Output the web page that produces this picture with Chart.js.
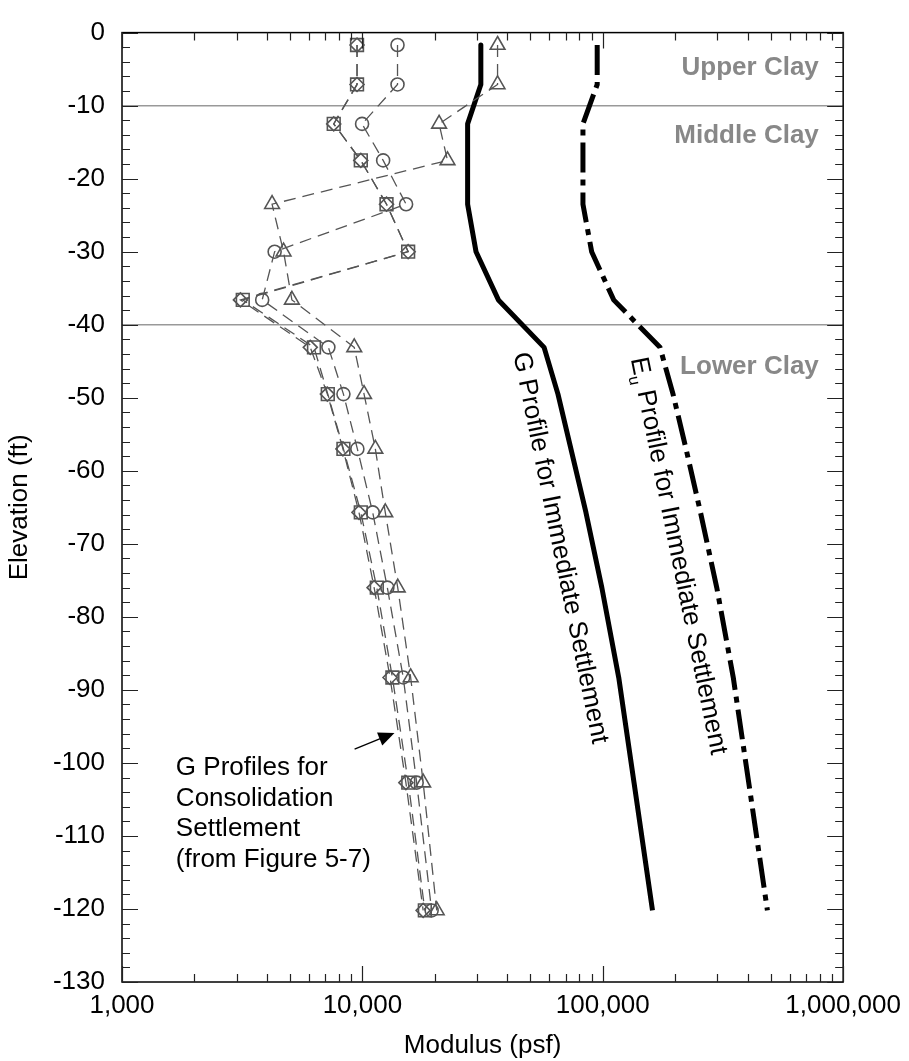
<!DOCTYPE html>
<html>
<head>
<meta charset="utf-8">
<script src="https://cdn.jsdelivr.net/npm/chart.js@4.4.1/dist/chart.umd.min.js"></script>
<style>
  html, body { margin: 0; padding: 0; background: #fff; }
  #wrap { width: 909px; height: 1061px; }
</style>
</head>
<body>
<div id="wrap"><canvas id="graph" width="909" height="1061"></canvas></div>
<script>
const ctx = document.getElementById('graph').getContext('2d');

// Elevations (ft) of the sample points, top to bottom
const elevations = [-1.7, -7.1, -12.5, -17.5, -23.5, -30.0, -36.6, -43.1, -49.5, -57.0, -65.7, -76.0, -88.3, -102.7, -120.2];

// G profiles for consolidation settlement (psf), from Figure 5-7
const gSquare   = [9500, 9500, 7600, 9850, 12600, 15500, 3180, 6290, 7180, 8340, 9850, 11480, 13330, 15520, 18190];
const gDiamond  = [9500, 9500, 7600, 9850, 12600, 15500, 3110, 6070, 7150, 8300, 9680, 11190, 13030, 15170, 17900];
const gCircle   = [14000, 14000, 9970, 12200, 15200, 4315, 3830, 7220, 8340, 9530, 11040, 12700, 14790, 16820, 19410];
const gTriangle = [36500, 36500, 20850, 22600, 4210, 4700, 5090, 9250, 10160, 11320, 12450, 14030, 15880, 17900, 20380];

// Profiles for immediate settlement (psf)
const gImmediate  = [31100, 31100, 27400, 27400, 27400, 29700, 36800, 57000, 65100, 73700, 85100, 99100, 116500, 134900, 161000];
const euImmediate = [94800, 94800, 82700, 82700, 82700, 89900, 111000, 173000, 196000, 222000, 255000, 298000, 349000, 404700, 484000];

// Layer boundaries and names
const layerBreaks = [-10, -40];
const layerNames = ['Upper Clay', 'Middle Clay', 'Lower Clay'];

// Axis ticks
const xTickValues = [1000, 10000, 100000, 1000000];
const xTickLabels = ['1,000', '10,000', '100,000', '1,000,000'];

const FONT = '"Liberation Sans", Arial, Helvetica, sans-serif';
const markerGray = '#555';

const toPoints = vals => vals.map((v, i) => ({ x: v, y: elevations[i] }));

function markerSeries(label, vals, style, radius) {
    return {
        label: label,
        data: toPoints(vals),
        showLine: true,
        borderColor: markerGray,
        borderWidth: 1.3,
        borderDash: [12, 7],
        pointStyle: style,
        pointRadius: radius,
        pointBorderColor: markerGray,
        pointBackgroundColor: 'rgba(0,0,0,0)',
        pointBorderWidth: 1.6,
    };
}

const layerLines = layerBreaks.map(e => ({
    label: 'break ' + e,
    data: [{ x: xTickValues[0], y: e }, { x: xTickValues[xTickValues.length - 1], y: e }],
    showLine: true,
    borderColor: '#999',
    borderWidth: 1.5,
    pointRadius: 0,
}));

// text, arrow, frame and inward ticks
const decorations = {
    id: 'decorations',
    afterDatasetsDraw(chart) {
        const { ctx, chartArea: a, scales: { x, y } } = chart;
        ctx.save();

        // frame
        ctx.strokeStyle = '#000';
        ctx.lineWidth = 1.5;
        ctx.strokeRect(a.left, a.top, a.right - a.left, a.bottom - a.top);

        // ticks, pointing inward on all four sides
        ctx.lineWidth = 1.2;
        ctx.strokeStyle = '#222';
        ctx.beginPath();
        for (let d = 1000; d < 1000000; d *= 10) {
            for (let k = 1; k <= 10; k++) {
                const px = Math.round(x.getPixelForValue(d * k)) + 0.5;
                const len = (k === 1 || k === 10) ? 16 : 8;
                ctx.moveTo(px, a.bottom); ctx.lineTo(px, a.bottom - len);
                ctx.moveTo(px, a.top); ctx.lineTo(px, a.top + len);
            }
        }
        for (let e = -130; e <= 0; e += 2) {
            const py = Math.round(y.getPixelForValue(e)) + 0.5;
            const len = e % 10 === 0 ? 16 : 8;
            ctx.moveTo(a.left, py); ctx.lineTo(a.left + len, py);
            ctx.moveTo(a.right, py); ctx.lineTo(a.right - len, py);
        }
        ctx.stroke();

        // layer names
        ctx.fillStyle = '#888';
        ctx.font = 'bold 26px ' + FONT;
        ctx.textAlign = 'right';
        ctx.textBaseline = 'alphabetic';
        const layerElev = [-5.8, -15.1, -46.8];
        const lx = x.getPixelForValue(792000);
        layerNames.forEach((n, i) => ctx.fillText(n, lx, y.getPixelForValue(layerElev[i])));

        // rotated profile labels
        ctx.fillStyle = '#000';
        ctx.textAlign = 'left';
        const ang = 78.5 * Math.PI / 180;

        ctx.save();
        ctx.translate(x.getPixelForValue(42400), y.getPixelForValue(-44.0));
        ctx.rotate(ang);
        ctx.font = '26px ' + FONT;
        ctx.fillText('G Profile for Immediate Settlement', 0, 0);
        ctx.restore();

        ctx.save();
        ctx.translate(x.getPixelForValue(130800), y.getPixelForValue(-44.7));
        ctx.rotate(ang);
        ctx.font = '26px ' + FONT;
        ctx.fillText('E', 0, 0);
        let off = ctx.measureText('E').width;
        ctx.font = '16px ' + FONT;
        ctx.fillText('u', off, 6);
        off += ctx.measureText('u').width;
        ctx.font = '26px ' + FONT;
        ctx.fillText(' Profile for Immediate Settlement', off, 0);
        ctx.restore();

        // note for the consolidation profiles
        ctx.font = '26px ' + FONT;
        const noteLines = ['G Profiles for', 'Consolidation', 'Settlement', '(from Figure 5-7)'];
        const nx = x.getPixelForValue(1675);
        const ny = y.getPixelForValue(-101.7);
        noteLines.forEach((t, i) => ctx.fillText(t, nx, ny + i * 30.5));

        // arrow
        const x0 = x.getPixelForValue(9280), y0 = y.getPixelForValue(-98.1);
        const x1 = x.getPixelForValue(13600), y1 = y.getPixelForValue(-95.9);
        const th = Math.atan2(y1 - y0, x1 - x0);
        ctx.strokeStyle = '#000';
        ctx.lineWidth = 1.3;
        ctx.beginPath();
        ctx.moveTo(x0, y0);
        ctx.lineTo(x1 - 14 * Math.cos(th), y1 - 14 * Math.sin(th));
        ctx.stroke();
        ctx.beginPath();
        ctx.moveTo(x1, y1);
        ctx.lineTo(x1 - 16 * Math.cos(th) + 7 * Math.sin(th), y1 - 16 * Math.sin(th) - 7 * Math.cos(th));
        ctx.lineTo(x1 - 16 * Math.cos(th) - 7 * Math.sin(th), y1 - 16 * Math.sin(th) + 7 * Math.cos(th));
        ctx.closePath();
        ctx.fillStyle = '#000';
        ctx.fill();

        ctx.restore();
    }
};

const chart = new Chart(ctx, {
    type: 'scatter',
    data: {
        datasets: [
            markerSeries('Square', gSquare, 'rect', 9),
            markerSeries('Diamond', gDiamond, 'rectRot', 7),
            markerSeries('Circle', gCircle, 'circle', 6.5),
            markerSeries('Triangle', gTriangle, 'triangle', 8.5),
            {
                label: 'G Profile for Immediate Settlement',
                data: toPoints(gImmediate),
                showLine: true,
                borderColor: '#000',
                borderWidth: 5,
                pointRadius: 0,
                borderJoinStyle: 'round',
            },
            {
                label: 'Eu Profile for Immediate Settlement',
                data: toPoints(euImmediate),
                showLine: true,
                borderColor: '#000',
                borderWidth: 5,
                borderDash: [30, 7, 6, 7],
                pointRadius: 0,
            },
            ...layerLines,
        ],
    },
    options: {
        responsive: false,
        animation: false,
        devicePixelRatio: 1,
        layout: { padding: { top: 16, right: 64, left: 0, bottom: 0 } },
        plugins: {
            legend: { display: false },
            tooltip: { enabled: false },
        },
        scales: {
            x: {
                type: 'logarithmic',
                min: 1000,
                max: 1000000,
                grid: { display: false, drawTicks: false },
                border: { display: false },
                afterFit: s => { s.height = 79; },
                afterBuildTicks: s => { s.ticks = xTickValues.map(v => ({ value: v })); },
                ticks: {
                    autoSkip: false,
                    maxRotation: 0,
                    padding: 8,
                    color: '#000',
                    font: { family: FONT, size: 26 },
                    callback: v => xTickLabels[xTickValues.indexOf(v)],
                },
                title: {
                    display: true,
                    text: 'Modulus (psf)',
                    color: '#000',
                    font: { family: FONT, size: 26 },
                    padding: { top: 0, bottom: 0 },
                },
            },
            y: {
                min: -130,
                max: 0,
                grid: { display: false, drawTicks: false },
                border: { display: false },
                afterFit: s => { s.width = 122; },
                ticks: {
                    stepSize: 10,
                    padding: 17,
                    color: '#000',
                    font: { family: FONT, size: 26 },
                },
                title: {
                    display: true,
                    text: 'Elevation (ft)',
                    color: '#000',
                    font: { family: FONT, size: 26 },
                    padding: { top: 4, bottom: 0 },
                },
            },
        },
    },
    plugins: [decorations],
});
</script>
</body>
</html>
